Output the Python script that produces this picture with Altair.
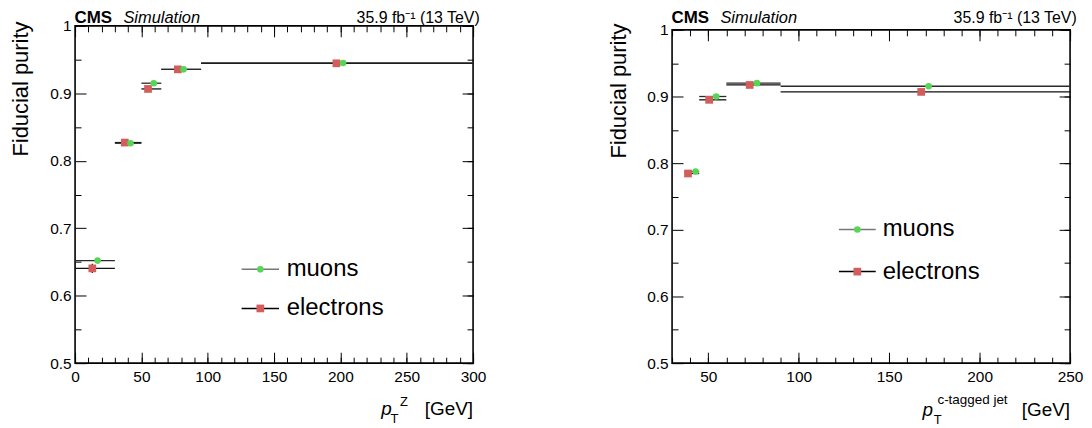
import altair as alt
import pandas as pd

FONT = "Liberation Sans"

# ---------------- data ----------------
series = ["muons", "electrons"]
marker_colors = ["#55d655", "#d35c5c"]
line_colors = ["#2a2a2a", "#111111"]
legend_line_colors = ["#777777", "#000000"]

# left panel: pT(Z)
l_bin_lo = [0, 30, 50, 65, 95]
l_bin_hi = [30, 50, 65, 95, 300]
l_mu_x = [17, 41.8, 59.3, 81.8, 202]
l_mu_y = [0.652, 0.826, 0.915, 0.9355, 0.945]
l_mu_err = [0.004, 0.002, 0.002, 0.001, 0.001]
l_el_x = [13, 37.5, 55, 77.5, 197]
l_el_y = [0.6405, 0.827, 0.9065, 0.9355, 0.9445]
l_el_err = [0.007, 0.002, 0.002, 0.001, 0.001]

# right panel: pT(c-tagged jet)
r_bin_lo = [37, 45, 60, 90]
r_bin_hi = [45, 60, 90, 250]
r_mu_x = [43, 54.4, 76.9, 171.8]
r_mu_y = [0.7875, 0.900, 0.920, 0.9154]
r_mu_err = [0.003, 0.002, 0.001, 0.001]
r_el_x = [38.8, 50.5, 72.9, 167.7]
r_el_y = [0.7845, 0.895, 0.9173, 0.9069]
r_el_err = [0.005, 0.002, 0.002, 0.001]

y_major = [0.5, 0.6, 0.7, 0.8, 0.9, 1.0]
y_minor = [0.55, 0.65, 0.75, 0.85, 0.95]
l_x_major = [0, 50, 100, 150, 200, 250, 300]
l_x_minor = list(range(0, 301, 10))
r_x_major = [50, 100, 150, 200, 250]
r_x_minor = list(range(30, 251, 10))

one = pd.DataFrame({"k": [0]})


def panel_df(lo, hi, mux, muy, muerr, elx, ely, elerr):
    rows = []
    for s, xs, ys, es in (("electrons", elx, ely, elerr), ("muons", mux, muy, muerr)):
        for i in range(len(lo)):
            rows.append(dict(series=s, x=xs[i], y=ys[i], lo=lo[i], hi=hi[i],
                             ylo=ys[i] - es[i], yhi=ys[i] + es[i]))
    return pd.DataFrame(rows)


def txt(text, x, y, size, baseline="alphabetic", **kw):
    return alt.Chart(one).mark_text(text=text, fontSize=size, font=FONT,
                                    color="black", baseline=baseline, **kw).encode(
        x=alt.value(x), y=alt.value(y))


def panel(df, xdom, xmaj, xmin, height, hdr_y, ytitle_x, ytitle_y,
          xtitle_parts, leg):
    xs = alt.Scale(domain=xdom, nice=False, zero=False)
    ys = alt.Scale(domain=[0.5, 1.0], nice=False, zero=False)
    common = dict(grid=False, domain=False, tickColor="black", tickWidth=1,
                  title=None, labelFlush=False, labelOverlap=False)
    lab = dict(labelFont=FONT, labelFontSize=15.5, labelColor="black")

    def axl(xa, ya):
        return alt.Chart(df).mark_point(opacity=0).encode(
            x=alt.X("x:Q", scale=xs, axis=xa), y=alt.Y("y:Q", scale=ys, axis=ya))

    ax1 = axl(alt.Axis(orient="bottom", values=xmaj, offset=-11, tickSize=11,
                       labelPadding=6, **lab, **common),
              alt.Axis(orient="left", values=y_major, offset=-11, tickSize=11,
                       labelPadding=4,
                       labelExpr="datum.value == 1 ? '1' : format(datum.value, '.1f')",
                       **lab, **common))
    ax2 = axl(alt.Axis(orient="bottom", values=xmin, offset=-6, tickSize=6,
                       labels=False, **common),
              alt.Axis(orient="left", values=y_minor, offset=-6, tickSize=6,
                       labels=False, **common))
    ax3 = axl(alt.Axis(orient="top", values=xmaj, offset=-11, tickSize=11,
                       labels=False, **common),
              alt.Axis(orient="right", values=y_major, offset=-11, tickSize=11,
                       labels=False, **common))
    ax4 = axl(alt.Axis(orient="top", values=xmin, offset=-6, tickSize=6,
                       labels=False, **common),
              alt.Axis(orient="right", values=y_minor + y_major, offset=-6,
                       tickSize=6, labels=False, **common))

    base = alt.Chart(df)
    lcol = alt.Color("series:N", scale=alt.Scale(domain=series, range=line_colors),
                     legend=None)
    hbar = base.mark_rule(strokeWidth=1.3).encode(
        x=alt.X("lo:Q", scale=xs, axis=None), x2="hi:Q",
        y=alt.Y("y:Q", scale=ys, axis=None), color=lcol)
    vbar = base.mark_rule(strokeWidth=1.3).encode(
        x=alt.X("x:Q", scale=xs, axis=None),
        y=alt.Y("ylo:Q", scale=ys, axis=None), y2="yhi:Q", color=lcol)
    el = base.transform_filter(alt.datum.series == "electrons").mark_square(
        size=60, color=marker_colors[1], opacity=1).encode(
        x=alt.X("x:Q", scale=xs, axis=None), y=alt.Y("y:Q", scale=ys, axis=None))
    mu = base.transform_filter(alt.datum.series == "muons").mark_circle(
        size=44, color=marker_colors[0], opacity=1).encode(
        x=alt.X("x:Q", scale=xs, axis=None), y=alt.Y("y:Q", scale=ys, axis=None))

    # header
    hdr = [
        txt("CMS", -0.6, hdr_y, 17, fontWeight="bold", align="left"),
        txt("Simulation", 48.6, hdr_y, 16.5, fontStyle="italic", align="left"),
        txt("35.9 fb\u207b\u00b9 (13 TeV)", 406.7, hdr_y, 16, align="right"),
        txt("Fiducial purity", ytitle_x, ytitle_y, 22, angle=270, align="right"),
    ]
    xt = [txt(t, x, y, s, align=a, fontStyle=st) for (t, x, y, s, a, st) in xtitle_parts]

    # legend
    lx0, lx1, lmx, ltx, ly_mu, ly_el = leg
    lg = []
    for name, yy, lc in ((series[0], ly_mu, legend_line_colors[0]),
                         (series[1], ly_el, legend_line_colors[1])):
        lg.append(alt.Chart(one).mark_rule(color=lc, strokeWidth=1.5).encode(
            x=alt.value(lx0), x2=alt.value(lx1), y=alt.value(yy)))
        lg.append(txt(name, ltx, yy, 24, baseline="middle", align="left"))
    lg.insert(1, alt.Chart(one).mark_circle(size=44, color=marker_colors[0], opacity=1)
              .encode(x=alt.value(lmx), y=alt.value(ly_mu)))
    lg.append(alt.Chart(one).mark_square(size=60, color=marker_colors[1], opacity=1)
              .encode(x=alt.value(lmx), y=alt.value(ly_el)))

    layers = [ax1, ax2, ax3, ax4, hbar, vbar, el, mu] + hdr + xt + lg
    return alt.layer(*layers).resolve_axis(x="independent", y="independent").properties(
        width=400, height=height,
        view=alt.ViewBackground(stroke="black", strokeWidth=1.6))


left_df = panel_df(l_bin_lo, l_bin_hi, l_mu_x, l_mu_y, l_mu_err, l_el_x, l_el_y, l_el_err)
right_df = panel_df(r_bin_lo, r_bin_hi, r_mu_x, r_mu_y, r_mu_err, r_el_x, r_el_y, r_el_err)

left = panel(
    left_df, [0, 300], l_x_major, l_x_minor, 339, -2.8, -47.3, -4.3,
    [("[GeV]", 400, 339 + 51.7, 19, "right", "normal"),
     ("p", 307.7, 339 + 51.7, 19, "left", "italic"),
     ("T", 317.0, 339 + 59.7, 13, "left", "normal"),
     ("Z", 326.5, 339 + 43.4, 13, "left", "normal")],
    (167.4, 205, 186.2, 212.7, 244.7, 284.0))

right = panel(
    right_df, [30, 250], r_x_major, r_x_minor, 335, -6.8, -46.3, -6.3,
    [("[GeV]", 400, 335 + 52.7, 19, "right", "normal"),
     ("p", 251.7, 335 + 52.7, 19, "left", "italic"),
     ("T", 263.0, 335 + 61.0, 13, "left", "normal"),
     ("c-tagged jet", 266.7, 335 + 40.7, 13.5, "left", "normal")],
    (167.7, 204.7, 186.2, 211.7, 200.7, 243.0))

spacer = alt.Chart(one).mark_point(opacity=0).encode(
    x=alt.value(0), y=alt.value(0)).properties(width=400, height=4)

chart = alt.hconcat(
    left,
    alt.vconcat(spacer, right, spacing=0, bounds="flush"),
    spacing=200, bounds="flush",
).properties(
    padding={"left": 0.4, "top": -1.1, "right": 0, "bottom": -3}
).configure_view(stroke="transparent")

chart.save("out.html", embed_options={"renderer": "svg", "actions": False})
